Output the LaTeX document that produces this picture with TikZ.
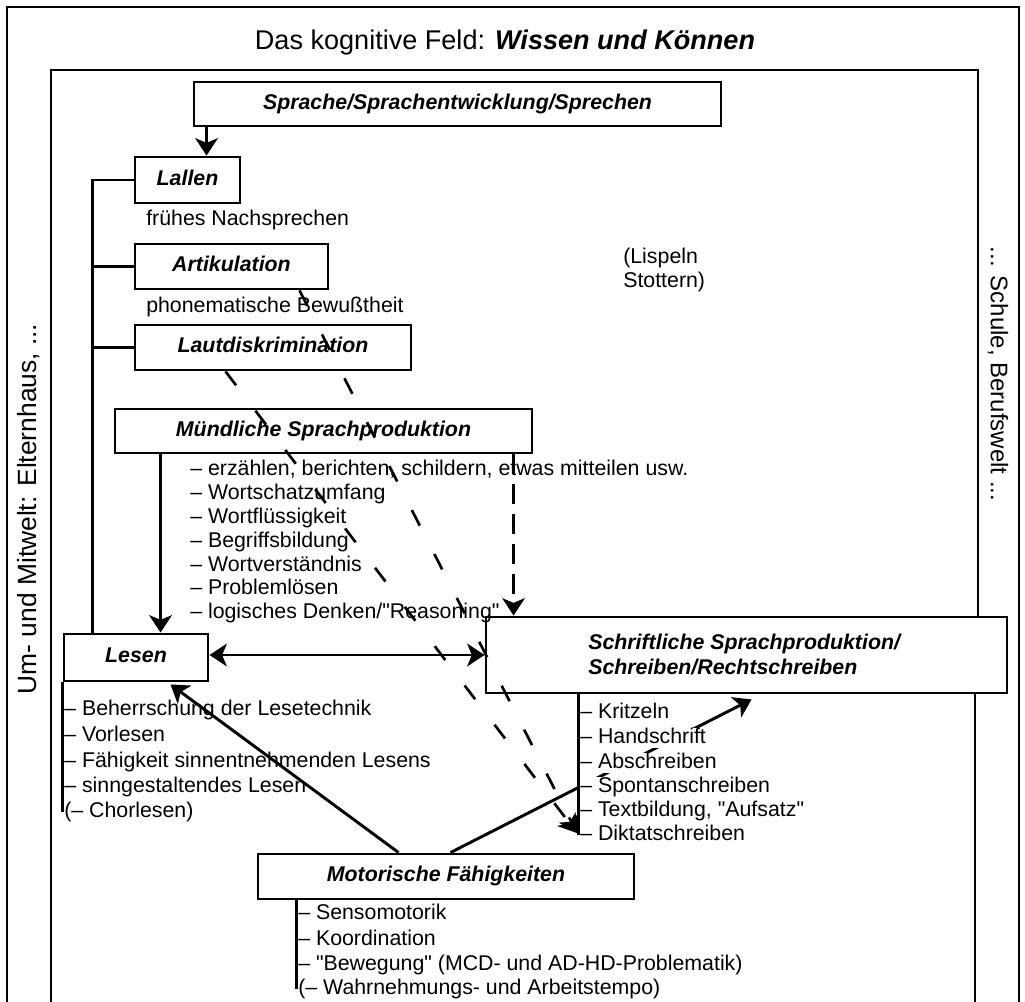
\documentclass[tikz,border=0pt]{standalone}
\usepackage{fontspec}
\setmainfont{Liberation Sans}[Ligatures=TeXOff]
\usetikzlibrary{arrows.meta,calc}
\newcommand{\nfs}{\fontsize{16pt}{18.4pt}\selectfont}
\begin{document}
\begin{tikzpicture}[x=0.75pt,y=-0.75pt,
  frame/.style={line width=2.2pt},
  box/.style={draw, line width=2.2pt, inner sep=0pt, font=\nfs\bfseries\itshape, text height=11.5pt, text depth=3.5pt},
  item/.style={anchor=west, inner sep=0pt, font=\nfs, text height=11.5pt, text depth=3.5pt},
  witem/.style={item, fill=white},
  conn/.style={line width=2.2pt},
  arr/.style={conn, -{Stealth[length=13pt,width=17pt,inset=3.5pt]}},
  darr/.style={arr, line width=2pt, dash pattern=on 13pt off 24pt},
  vdarr/.style={arr, line width=2pt, dash pattern=on 15pt off 7.5pt},
]
\useasboundingbox (0,0) rectangle (1025,1002);

% frames
\draw[frame] (7,1010) -- (7,7) -- (1019,7) -- (1019,1010);
\draw[frame] (51,1010) -- (51,70) -- (978,70) -- (978,617);
\draw[frame] (975,693) -- (975,1010);

% titles
\node[font=\fontsize{20.3pt}{24pt}\selectfont] (title) at (505,43) {Das kognitive Feld: \textbf{\textit{Wissen und Können}}};
\node[rotate=90, font=\fontsize{19.8pt}{24pt}\selectfont] (umwelt) at (29,509) {Um- und Mitwelt: Elternhaus, ...};
\node[rotate=-90, font=\fontsize{18pt}{22pt}\selectfont] (schule) at (998,374) {... Schule, Berufswelt ...};

% boxes
\node[box, minimum width=395.25pt, minimum height=33pt] (sprache) at (457.5,104) {Sprache/Sprachentwicklung/Sprechen};
\node[box, minimum width=78.75pt, minimum height=34.5pt] (lallen) at (187.5,180) {Lallen};
\node[item] (frueh) at (146,220) {frühes Nachsprechen};
\node[box, minimum width=144.75pt, minimum height=33.75pt] (artik) at (231.5,266.5) {Artikulation};
\node[item] (phon) at (146,307) {phonematische Bewußtheit};
\node[box, minimum width=207pt, minimum height=33.75pt] (laut) at (273,347.5) {Lautdiskrimination};
\node[anchor=west, inner sep=0pt, font=\fontsize{16pt}{18pt}\selectfont, align=left] (lispeln) at (623,270) {(Lispeln\\Stottern)};
\node[box, minimum width=312.75pt, minimum height=33pt] (muend) at (323.5,431) {Mündliche Sprachproduktion};

\node[item] (m1) at (190,470) {– erzählen, berichten, schildern, etwas mitteilen usw.};
\node[item] (m2) at (190,494) {– Wortschatzumfang};
\node[item] (m3) at (190,518) {– Wortflüssigkeit};
\node[item] (m4) at (190,542) {– Begriffsbildung};
\node[item] (m5) at (190,566) {– Wortverständnis};
\node[item] (m6) at (190,589) {– Problemlösen};
\node[item] (m7) at (190,613) {– logisches Denken/"Reasoning"};

\node[box, minimum width=108pt, minimum height=35.25pt] (lesen) at (136,657.5) {Lesen};
\node[item] (l1) at (64,710) {– Beherrschung der Lesetechnik};
\node[item] (l2) at (64,736) {– Vorlesen};
\node[item] (l3) at (64,762) {– Fähigkeit sinnentnehmenden Lesens};
\node[item] (l4) at (64,787) {– sinngestaltendes Lesen};
\node[item] (l5) at (64,812) {(– Chorlesen)};
\draw[conn] (lesen.south west) -- (lesen.south west |- l5.west);

\node[box, minimum width=390.75pt, minimum height=57pt] (schrift) at (746.5,655) {};
\node[anchor=west, inner sep=0pt, font=\fontsize{16pt}{18.75pt}\selectfont\bfseries\itshape, align=left] (schrifttxt) at (588,654.5) {Schriftliche Sprachproduktion/\\Schreiben/Rechtschreiben};

\node[box, minimum width=282pt, minimum height=33.75pt] (motor) at (446,876.5) {Motorische Fähigkeiten};
\node[item] (mo1) at (298,914) {– Sensomotorik};
\node[item] (mo2) at (298,940) {– Koordination};
\node[item] (mo3) at (298,965) {– "Bewegung" (MCD- und AD-HD-Problematik)};
\node[item] (mo4) at (298,989) {(– Wahrnehmungs- und Arbeitstempo)};
\coordinate (moL) at ($(motor.south west)+(40,0)$);
\draw[conn] (moL) -- (moL |- mo4.west);

% connectors
\coordinate (spA) at ($(sprache.south west)+(14,0)$);
\draw[arr] (spA) -- (spA |- lallen.north);

\coordinate (brB) at ($(lesen.north west)+(30,0)$);
\draw[conn] (lallen.west) -| (brB);
\draw[conn] (artik.west) -- (artik.west -| brB);
\draw[conn] (laut.west) -- (laut.west -| brB);

\coordinate (mA) at ($(muend.south west)+(47,0)$);
\draw[arr] (mA) -- (mA |- lesen.north);

\draw[conn, {Stealth[length=13pt,width=17pt,inset=3.5pt]}-{Stealth[length=13pt,width=17pt,inset=3.5pt]}] (schrift.west -| lesen.east) -- (schrift.west);

\coordinate (moA) at ($(motor.north west)+(142,0)$);
\coordinate (moB) at ($(motor.north west)+(194,0)$);
\coordinate (leB) at ($(lesen.south west)+(108,2)$);
\coordinate (scB) at ($(schrift.south west)+(267,5)$);
\draw[arr] (moA) -- (leB);
\draw[arr] (moB) -- (scB);

% Schriftliche list (opaque text)
\node[witem] (s1) at (580,713) {– Kritzeln};
\node[witem] (s2) at (580,738) {– Handschrift};
\node[witem] (s3) at (580,763) {– Abschreiben};
\node[witem] (s4) at (580,787) {– Spontanschreiben};
\node[witem] (s5) at (580,811) {– Textbildung, "Aufsatz"};
\node[witem] (s6) at (580,835) {– Diktatschreiben};
\coordinate (sL) at ($(schrift.south west)+(94,0)$);
\draw[conn] (sL) -- (sL |- s6.west);

% dashed connectors
\coordinate (mB) at ($(muend.south west)+(400,0)$);
\draw[vdarr] (mB) -- (mB |- schrift.north);
\coordinate (arA) at ($(artik.south west)+(166,0)$);
\coordinate (lauA) at ($(laut.south west)+(92,0)$);
\coordinate (dtip) at (577,833);
\draw[darr] (arA) -- (dtip);
\draw[darr] (lauA) -- (dtip);
\end{tikzpicture}
\end{document}
